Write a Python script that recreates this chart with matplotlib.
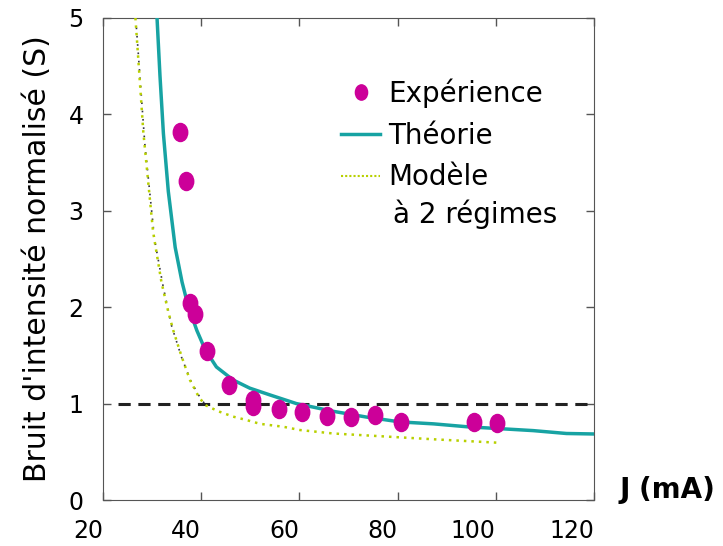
import matplotlib
matplotlib.use("Agg")
import matplotlib.pyplot as plt
from matplotlib.lines import Line2D
from matplotlib.path import Path
from matplotlib.transforms import Affine2D

# experimental points
exp_J = [35.7, 36.8, 37.7, 38.7, 41.1, 45.7, 50.5, 50.5, 55.8, 60.6, 65.7, 70.6, 75.5, 80.6, 95.6, 100.3]
exp_S = [3.82, 3.31, 2.04, 1.93, 1.55, 1.19, 1.04, 0.98, 0.94, 0.91, 0.87, 0.86, 0.885, 0.81, 0.81, 0.80]

# theory curve
th_J = [31.0, 31.6, 32.3, 33.3, 34.7, 36.1, 37.3, 39.1, 40.8, 43.1, 46.5, 49.9, 54.0, 59.4,
        66.9, 73.7, 80.5, 87.3, 94.1, 100.9, 107.6, 114.4, 120.0]
th_S = [5.0, 4.40, 3.80, 3.20, 2.62, 2.26, 2.02, 1.76, 1.56, 1.38, 1.245, 1.16, 1.09, 1.0,
        0.92, 0.86, 0.81, 0.79, 0.76, 0.74, 0.72, 0.69, 0.685]

# two-regime model
mod_J = [26.6, 27.5, 28.2, 29.2, 30.2, 31.9, 33.3, 34.3, 36.0, 37.7, 39.5, 40.8, 43.5, 46.5,
         49.2, 52.0, 56.7, 60.1, 66.9, 77.1, 87.3, 100.2]
mod_S = [5.0, 4.34, 3.82, 3.3, 2.78, 2.26, 1.95, 1.76, 1.49, 1.245, 1.07, 0.985, 0.92, 0.865,
         0.83, 0.79, 0.76, 0.726, 0.69, 0.66, 0.63, 0.595]

# first regime extension (dark dotted)
reg_J = [26.8, 28.5, 30.5, 32.3, 34.0, 36.0, 38.0, 39.8, 40.9]
reg_S = [4.9, 3.7, 2.7, 2.2, 1.8, 1.48, 1.22, 1.06, 0.985]

xticks = [20, 40, 60, 80, 100, 120]
yticks = [0, 1, 2, 3, 4, 5]

teal = "#17a3a3"
magenta = "#cc0099"
lime = "#b8d000"

# slightly tall ellipse marker
ellipse = Path.unit_circle().transformed(Affine2D().scale(0.8, 1.0))

fig = plt.figure(figsize=(7.23, 5.46), dpi=100)
ax = fig.add_axes([0.1425, 0.0842, 0.679, 0.883])

ax.hlines(1, 23, 120, colors="#222222", linestyles=(0, (4, 2.5)), linewidth=2.2, zorder=2)
ax.plot(reg_J, reg_S, color="#333344", linestyle=(0, (1, 4)), linewidth=1.2, zorder=2)
ax.plot(mod_J, mod_S, color=lime, linestyle=(0, (1, 2)), linewidth=1.8, zorder=3)
ax.plot(th_J, th_S, color=teal, linewidth=2.5, zorder=4)
ax.plot(exp_J, exp_S, linestyle="none", marker=ellipse, markersize=13, color=magenta,
        markeredgecolor=magenta, zorder=5)

ax.set_xlim(20, 120)
ax.set_ylim(0, 5)
ax.set_xticks(xticks)
ax.set_yticks(yticks)
ax.set_xticklabels([str(t) for t in xticks], ha="right")
ax.tick_params(direction="in", top=True, right=True, length=6, width=1, colors="#555555",
               labelcolor="black", labelsize=17)
ax.tick_params(axis="x", pad=14)
ax.tick_params(axis="y", pad=14)
for sp in ax.spines.values():
    sp.set_color("#555555")

ax.set_ylabel("Bruit d'intensité normalisé (S)", fontsize=21.5, labelpad=12)
ax.set_xlabel("J (mA)", fontsize=20, fontweight="bold", va="center")
ax.xaxis.set_label_coords(1.15, 0.02)

handles = [
    Line2D([], [], linestyle="none", marker=ellipse, markersize=11, color=magenta),
    Line2D([], [], color=teal, linewidth=2.5),
    Line2D([], [], color=lime, linestyle=(0, (1, 1)), linewidth=1.5),
]
ax.legend(handles, ["Expérience", "Théorie", "Modèle"], loc="upper left",
          bbox_to_anchor=(0.485, 0.875), frameon=False, fontsize=20, handlelength=1.4,
          handletextpad=0.3, labelspacing=0.5, borderpad=0, borderaxespad=0)
ax.text(0.59, 0.593, "à 2 régimes", transform=ax.transAxes, fontsize=20, va="center")

fig.savefig("out.png", dpi=100)
